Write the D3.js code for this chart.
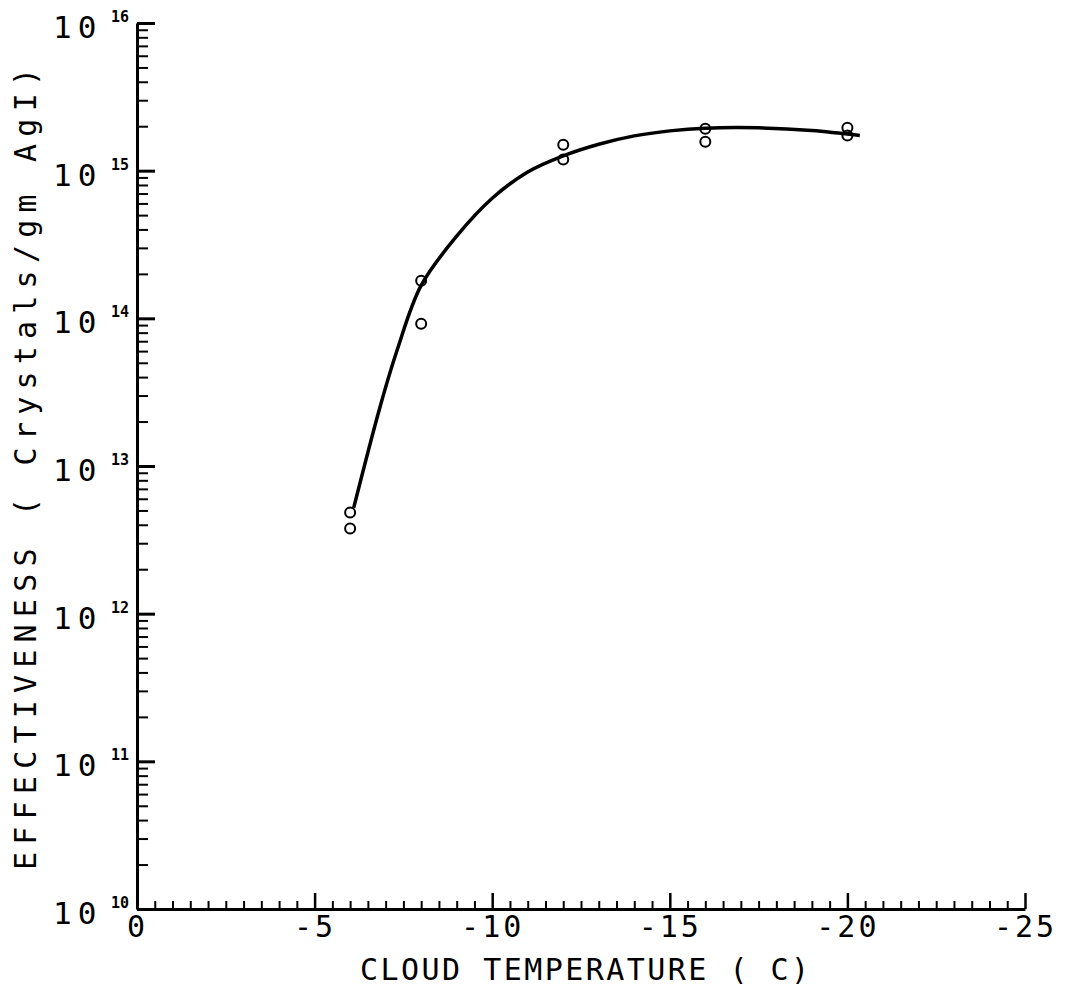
<!DOCTYPE html>
<html>
<head>
<meta charset="utf-8">
<script src="https://cdn.jsdelivr.net/npm/d3@7"></script>
<style>
  html, body { margin: 0; padding: 0; background: #fff; }
  svg { display: block; }
  text { font-family: "DejaVu Sans Mono", "Liberation Mono", monospace; fill: #000; }
</style>
</head>
<body>
<svg id="chart" width="1065" height="993"></svg>
<script>
// ---- data ----
const obsTemps = [-6, -6, -8, -8, -12, -12, -16, -16, -20, -20];
const obsEff   = [4.85e12, 3.78e12, 1.80e14, 9.2e13, 1.50e15, 1.19e15, 1.92e15, 1.57e15, 1.95e15, 1.73e15];

const curveTemps = [-6.1, -6.84, -7.32, -8, -9, -10, -11, -12, -13, -14, -15, -16, -17.5, -19, -20.35];
const curveEff   = [5.2e12, 2.5e13, 6.05e13, 1.67e14, 3.6e14, 6.5e14, 9.8e14, 1.26e15, 1.51e15, 1.72e15, 1.86e15, 1.94e15, 1.95e15, 1.87e15, 1.73e15];

const xMajorTicks = [0, -5, -10, -15, -20, -25];
const xTickLabels = ["0", "-5", "-10", "-15", "-20", "-25"];
const yDecades = [1e10, 1e11, 1e12, 1e13, 1e14, 1e15, 1e16];
const yExponents = ["10", "11", "12", "13", "14", "15", "16"];
const yBase = "10";
const xTitle = "CLOUD TEMPERATURE ( C)";
const yTitle = "EFFECTIVENESS ( Crystals/gm AgI)";

// ---- scales ----
const svg = d3.select("#chart");
const x = d3.scaleLinear().domain([0, -25]).range([137, 1025]);
const y = d3.scaleLog().domain([1e10, 1e16]).range([909, 23]);

// minor ticks
const xMinor = d3.range(0, -25.01, -0.5).filter(v => Math.abs(v % 5) > 1e-9);
const yMinor = [];
for (let e = 10; e < 16; e++) for (let m = 2; m <= 9; m++) yMinor.push(m * Math.pow(10, e));

// ---- x axis ----
const gxMinor = svg.append("g").attr("transform", `translate(0,${y.range()[0]})`)
  .call(d3.axisBottom(x).tickValues(xMinor).tickSize(-8).tickSizeOuter(0).tickFormat(""));
gxMinor.select(".domain").remove();
gxMinor.selectAll(".tick line").attr("stroke", "#000").attr("stroke-width", 2);

const gx = svg.append("g").attr("transform", `translate(0,${y.range()[0]})`)
  .call(d3.axisBottom(x).tickValues(xMajorTicks).tickSize(-16).tickSizeOuter(0)
        .tickPadding(7).tickFormat((d, i) => xTickLabels[i]));
gx.select(".domain").attr("stroke", "#000").attr("stroke-width", 3);
gx.selectAll(".tick line").attr("stroke", "#000").attr("stroke-width", 2.5);
gx.selectAll(".tick text").attr("font-size", 30).attr("letter-spacing", 3)
  .attr("font-family", '"DejaVu Sans Mono", monospace').attr("fill", "#000");

// ---- y axis ----
const gyMinor = svg.append("g").attr("transform", `translate(${x.range()[0]},0)`)
  .call(d3.axisLeft(y).tickValues(yMinor).tickSize(-11).tickSizeOuter(0).tickFormat(""));
gyMinor.select(".domain").remove();
gyMinor.selectAll(".tick line").attr("stroke", "#000").attr("stroke-width", 2);

const gy = svg.append("g").attr("transform", `translate(${x.range()[0]},0)`)
  .call(d3.axisLeft(y).tickValues(yDecades).tickSize(-18).tickSizeOuter(0).tickFormat(""));
gy.select(".domain").attr("stroke", "#000").attr("stroke-width", 3);
gy.selectAll(".tick line").attr("stroke", "#000").attr("stroke-width", 3);

// y tick labels: "10" with superscript exponent
const yl = svg.append("g");
yl.selectAll("text.base").data(yDecades).join("text")
  .attr("class", "base")
  .attr("x", 53).attr("y", d => y(d) + 15)
  .attr("font-size", 31).attr("letter-spacing", 6)
  .text(yBase);
yl.selectAll("text.exp").data(yDecades).join("text")
  .attr("class", "exp")
  .attr("x", 129).attr("y", d => y(d) - 1)
  .attr("text-anchor", "end")
  .attr("font-size", 15).attr("font-weight", "bold")
  .text((d, i) => yExponents[i]);

// ---- titles ----
svg.append("text")
  .attr("x", 360).attr("y", 980)
  .attr("font-size", 30)
  .attr("textLength", 449).attr("lengthAdjust", "spacing")
  .text(xTitle);

svg.append("text")
  .attr("transform", "translate(36,870) rotate(-90)")
  .attr("x", 0).attr("y", 0)
  .attr("font-size", 30)
  .attr("textLength", 802).attr("lengthAdjust", "spacing")
  .text(yTitle);

// ---- curve ----
const line = d3.line()
  .x((d, i) => x(curveTemps[i]))
  .y((d, i) => y(curveEff[i]))
  .curve(d3.curveCatmullRom.alpha(0.5));
svg.append("path")
  .datum(curveTemps)
  .attr("d", line)
  .attr("fill", "none").attr("stroke", "#000").attr("stroke-width", 3.5);

// ---- observations ----
svg.append("g").selectAll("circle").data(obsTemps).join("circle")
  .attr("cx", d => x(d))
  .attr("cy", (d, i) => y(obsEff[i]))
  .attr("r", 5)
  .attr("fill", "none").attr("stroke", "#000").attr("stroke-width", 2);
</script>
</body>
</html>
